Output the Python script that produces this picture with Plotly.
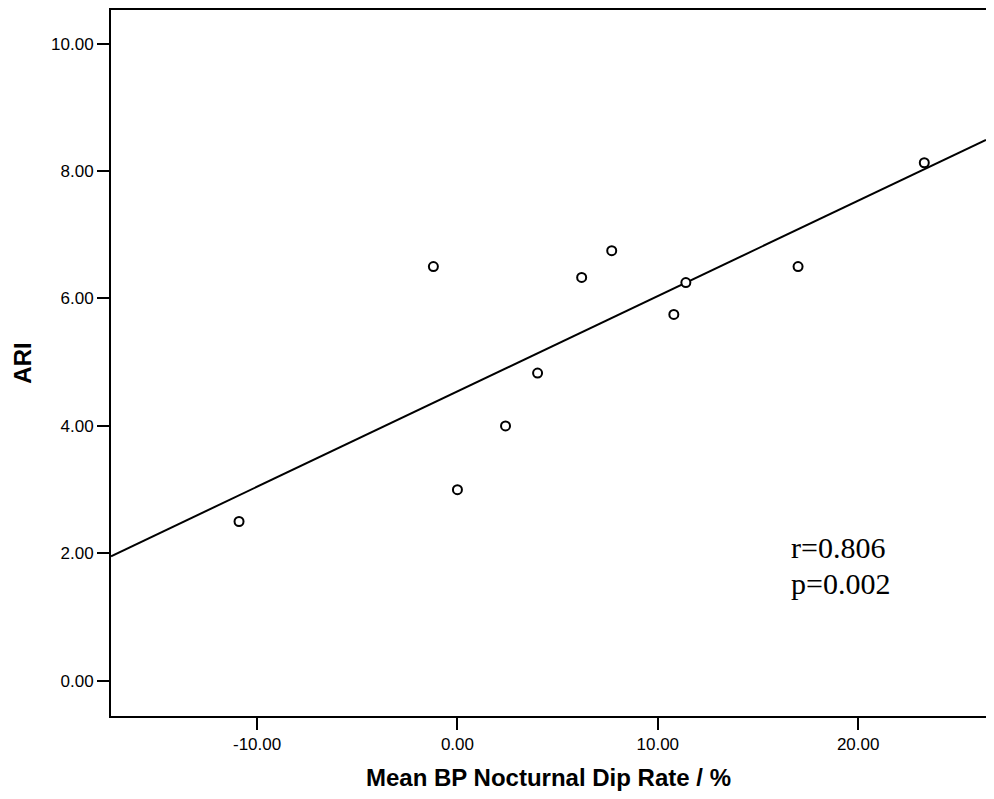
import numpy as np
import plotly.graph_objects as go

# Data
dip_rate = [-10.9, -1.2, 0.0, 2.4, 4.0, 6.2, 7.7, 10.8, 11.4, 17.0, 23.3]
ari = [2.5, 6.5, 3.0, 4.0, 4.83, 6.33, 6.75, 5.75, 6.25, 6.5, 8.13]
x_ticks = [-10, 0, 10, 20]
y_ticks = [0, 2, 4, 6, 8, 10]
x_range = [-17.29, 26.38]
y_range = [-0.552, 10.527]
r_text = "r=0.806"
p_text = "p=0.002"

slope, intercept = np.polyfit(dip_rate, ari, 1)
fit_x = np.array(x_range)
fit_y = slope * fit_x + intercept

fig = go.Figure()
fig.add_trace(go.Scatter(
    x=fit_x, y=fit_y, mode="lines",
    line=dict(color="black", width=2), hoverinfo="skip", showlegend=False,
))
fig.add_trace(go.Scatter(
    x=dip_rate, y=ari, mode="markers",
    marker=dict(symbol="circle", size=9, color="white",
                line=dict(color="black", width=2)),
    showlegend=False,
))

axis_font = dict(family="Liberation Sans, Arial, sans-serif", size=17, color="black")
title_font = dict(family="Liberation Sans, Arial, sans-serif", size=24, color="black")
stat_font = dict(family="Liberation Serif, Times New Roman, serif", size=30, color="black")

fig.update_layout(
    width=978, height=783,
    margin=dict(l=103, r=0, t=0, b=75),
    paper_bgcolor="white", plot_bgcolor="white",
    xaxis=dict(
        range=x_range, tickvals=x_ticks,
        ticktext=[f"{v:.2f}" for v in x_ticks],
        ticks="outside", ticklen=12, tickwidth=2, tickcolor="black",
        showline=True, linecolor="black", linewidth=2, mirror=True,
        showgrid=False, zeroline=False, tickfont=axis_font,
        title=dict(text="<b>Mean BP Nocturnal Dip Rate / %</b>", font=title_font, standoff=16),
    ),
    yaxis=dict(
        range=y_range, tickvals=y_ticks,
        ticktext=[f"{v:.2f}" for v in y_ticks],
        ticks="outside", ticklen=12, tickwidth=2, tickcolor="black",
        showline=True, linecolor="black", linewidth=2, mirror=False,
        showgrid=False, zeroline=False, tickfont=axis_font,
        title=dict(text="<b>ARI</b>", font=title_font, standoff=13),
    ),
    annotations=[
        dict(text=r_text, xref="paper", yref="paper", x=0.775, y=0.2387,
             xanchor="left", yanchor="middle", showarrow=False, font=stat_font),
        dict(text=p_text, xref="paper", yref="paper", x=0.775, y=0.1879,
             xanchor="left", yanchor="middle", showarrow=False, font=stat_font),
    ],
)

fig.write_html("out.html")
